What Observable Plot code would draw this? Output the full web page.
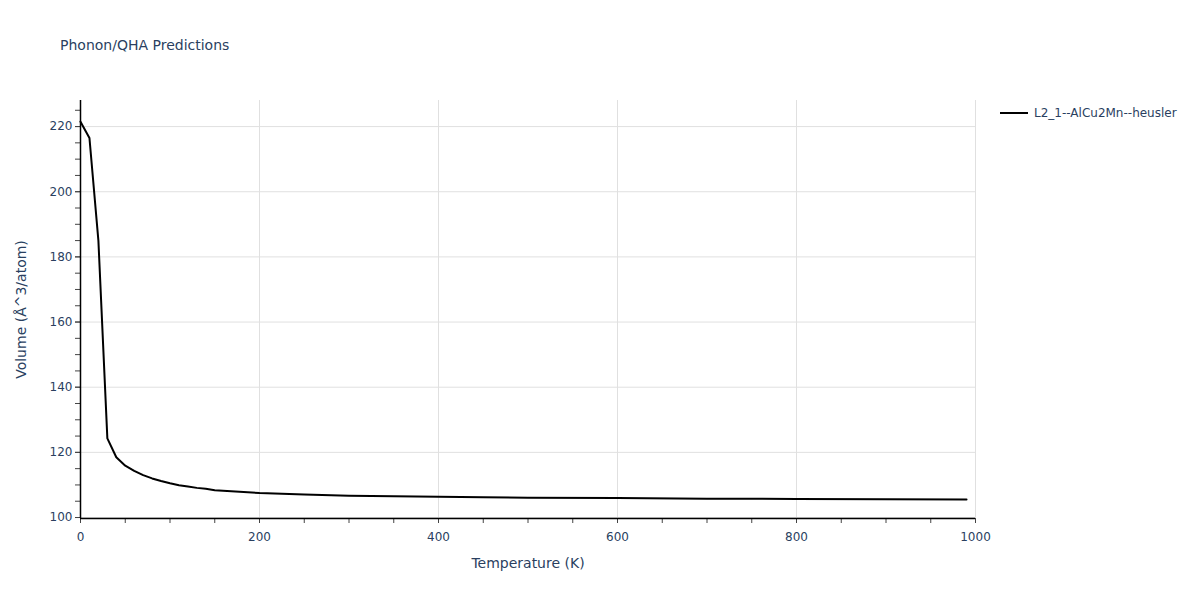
<!DOCTYPE html>
<html>
<head>
<meta charset="utf-8">
<script src="https://cdn.jsdelivr.net/npm/d3@7"></script>
<script src="https://cdn.jsdelivr.net/npm/@observablehq/plot@0.6"></script>
<style>
  html, body { margin: 0; padding: 0; background: #fff; }
  #wrap { position: relative; width: 1200px; height: 600px; font-family: "DejaVu Sans", Verdana, sans-serif; }
  #title { position: absolute; left: 60px; top: 37px; font-size: 14px; color: #2a3f5f; }
  #legend { position: absolute; left: 1000px; top: 106px; font-size: 12px; color: #2a3f5f; display: flex; align-items: center; }
  #legend .sw { width: 28px; height: 2px; background: #000; margin-right: 6px; }
  #chart { position: absolute; left: 0; top: 0; }
</style>
</head>
<body>
<div id="wrap">
  <div id="chart"></div>
  <div id="title">Phonon/QHA Predictions</div>
  <div id="legend"><div class="sw"></div><span id="legendLabel"></span></div>
</div>
<script>
const seriesName = "L2_1--AlCu2Mn--heusler";
const temperature = [0, 10, 20, 30, 40, 50, 60, 70, 80, 90, 100, 110, 120, 130, 140, 150, 200, 250, 300, 350, 400, 450, 500, 600, 700, 800, 900, 990];
const volume = [221.5, 216.5, 185, 124.3, 118.5, 115.9, 114.3, 113.0, 112.0, 111.2, 110.5, 109.9, 109.5, 109.1, 108.8, 108.4, 107.5, 107.1, 106.7, 106.5, 106.4, 106.2, 106.1, 106.0, 105.8, 105.7, 105.6, 105.5];
const xMajorTicks = [0, 200, 400, 600, 800, 1000];
const yMajorTicks = [100, 120, 140, 160, 180, 200, 220];
const xMinorTicks = d3.range(0, 1001, 50);
const yMinorTicks = d3.range(100, 226, 5);

document.getElementById("legendLabel").textContent = seriesName;
const data = temperature.map((t, i) => ({t, v: volume[i]}));

const textColor = "#2a3f5f";
const chart = Plot.plot({
  width: 1200,
  height: 600,
  marginLeft: 80,
  marginRight: 225,
  marginTop: 100,
  marginBottom: 82,
  style: {fontFamily: "DejaVu Sans, Verdana, sans-serif", fontSize: "12px", color: textColor, background: "transparent"},
  x: {domain: [0, 1000]},
  y: {domain: [99.7, 228]},
  marks: [
    Plot.gridX(xMajorTicks, {stroke: "#e0e0e0", strokeOpacity: 1, strokeWidth: 1}),
    Plot.gridY(yMajorTicks, {stroke: "#e0e0e0", strokeOpacity: 1, strokeWidth: 1}),
    Plot.axisX(xMinorTicks, {tickSize: 5, text: null, label: null, stroke: "#444"}),
    Plot.axisY(yMinorTicks, {tickSize: 5, text: null, label: null, stroke: "#444"}),
    Plot.axisX(xMajorTicks, {tickSize: 5, tickPadding: 9, fontSize: 12, fill: textColor, stroke: "#444", label: "Temperature (K)", labelAnchor: "center", labelArrow: "none", labelOffset: 49, tickFormat: d3.format("d")}),
    Plot.axisY(yMajorTicks, {tickSize: 5, tickPadding: 3, fontSize: 12, fill: textColor, stroke: "#444", label: "Volume (Å^3/atom)", labelAnchor: "center", labelArrow: "none", labelOffset: 64, tickFormat: d3.format("d")}),
    Plot.ruleX([0], {stroke: "#000", strokeWidth: 1.5}),
    Plot.ruleY([99.7], {stroke: "#000", strokeWidth: 1.5}),
    Plot.line(data, {x: "t", y: "v", stroke: "#000", strokeWidth: 2})
  ]
});
document.getElementById("chart").appendChild(chart);
chart.querySelectorAll("[aria-label='x-axis label'] text, [aria-label='y-axis label'] text").forEach(t => {
  t.style.fontSize = "14px";
  t.setAttribute("fill", textColor);
});
</script>
</body>
</html>
